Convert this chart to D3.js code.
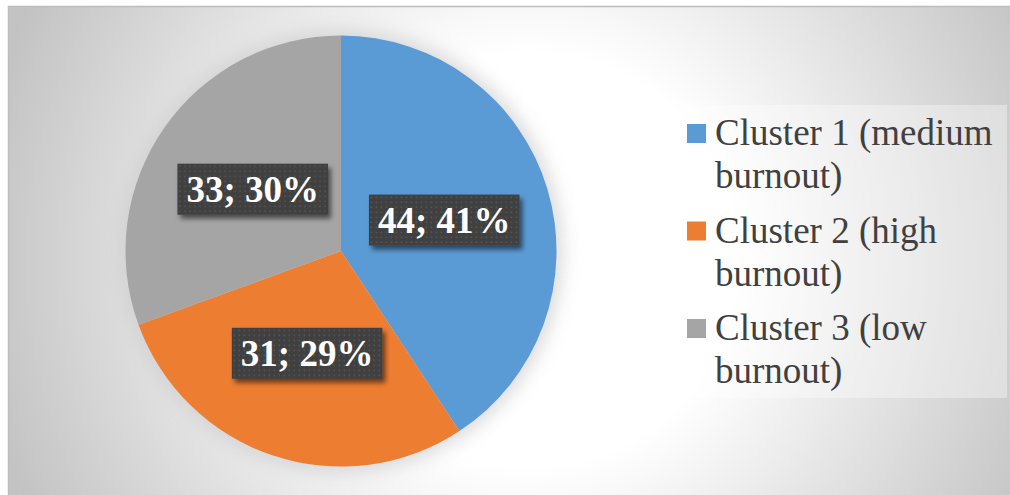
<!DOCTYPE html>
<html>
<head>
<meta charset="utf-8">
<script src="https://cdn.jsdelivr.net/npm/d3@7"></script>
<style>
  html, body { margin: 0; padding: 0; background: #ffffff; }
  svg { display: block; }
  .serif { font-family: "Liberation Serif", "Times New Roman", Times, Tinos, "Nimbus Roman", "DejaVu Serif", serif; }
</style>
</head>
<body>
<svg id="chart" width="1010" height="495"></svg>
<script>
// Cluster sizes and their shares
const categories = ["Cluster 1 (medium burnout)", "Cluster 2 (high burnout)", "Cluster 3 (low burnout)"];
const counts = [44, 31, 33];
const shares = ["41%", "29%", "30%"];
const colors = ["#5b9bd5", "#ed7d31", "#a5a5a5"];

const W = 1010, H = 495;
const svg = d3.select("#chart");
const defs = svg.append("defs");

// Radial background fill, light near the middle, grey toward the corners
const bg = defs.append("radialGradient")
  .attr("id", "bgGrad")
  .attr("gradientUnits", "userSpaceOnUse")
  .attr("cx", 530).attr("cy", 260).attr("r", 560);
bg.append("stop").attr("offset", 0).attr("stop-color", "#ffffff");
bg.append("stop").attr("offset", 0.37).attr("stop-color", "#ffffff");
bg.append("stop").attr("offset", 1).attr("stop-color", "#c3c3c3");

// Soft grey glow around the pie
const glow = defs.append("filter").attr("id", "glow")
  .attr("x", "-30%").attr("y", "-30%").attr("width", "160%").attr("height", "160%");
glow.append("feGaussianBlur").attr("stdDeviation", 9);

// Dotted dark fill for the data labels
const pat = defs.append("pattern").attr("id", "dots")
  .attr("patternUnits", "userSpaceOnUse").attr("width", 5).attr("height", 5);
pat.append("rect").attr("width", 5).attr("height", 5).attr("fill", "#404040");
pat.append("rect").attr("x", 1.5).attr("y", 1.5).attr("width", 1.5).attr("height", 1.5).attr("fill", "#575757");

// Drop shadow for the label boxes
const shadow = defs.append("filter").attr("id", "shadow")
  .attr("x", "-20%").attr("y", "-30%").attr("width", "140%").attr("height", "170%");
shadow.append("feDropShadow").attr("dx", 3).attr("dy", 4).attr("stdDeviation", 2.5)
  .attr("flood-color", "#000").attr("flood-opacity", 0.55);

// Chart area with thin frame
svg.append("rect")
  .attr("x", 8.5).attr("y", 6.5).attr("width", W).attr("height", H)
  .attr("fill", "url(#bgGrad)")
  .attr("stroke", "#bdbdbd").attr("stroke-width", 1.5);

// Pie
const cx = 341, cy = 251, R = 215.5;
const pie = d3.pie().sort(null).value(d => d)
  .startAngle(0).endAngle(2 * Math.PI);
const arcs = pie(counts);
const arc = d3.arc().innerRadius(0).outerRadius(R);

const pieG = svg.append("g").attr("transform", `translate(${cx},${cy})`);
pieG.append("circle").attr("r", R + 6)
  .attr("fill", "#cfcfcf").attr("opacity", 0.75).attr("filter", "url(#glow)");
pieG.selectAll("path.slice")
  .data(arcs)
  .join("path")
  .attr("class", "slice")
  .attr("d", arc)
  .attr("fill", (d, i) => colors[i]);

// Data labels "count; share" on dark boxes at half radius
const labels = pieG.selectAll("g.lbl")
  .data(arcs)
  .join("g")
  .attr("class", "lbl")
  .attr("transform", d => `translate(${arc.centroid(d)})`);

labels.each(function (d, i) {
  const g = d3.select(this);
  const box = g.append("rect").attr("fill", "url(#dots)").attr("filter", "url(#shadow)");
  const t = g.append("text")
    .attr("class", "serif")
    .attr("text-anchor", "middle")
    .attr("y", 12.5)
    .attr("font-weight", "bold")
    .attr("font-size", 37)
    .attr("fill", "#ffffff")
    .text(`${counts[i]}; ${shares[i]}`);
  const w = t.node().getComputedTextLength() + 18;
  const h = 51;
  box.attr("x", -w / 2).attr("y", -h / 2).attr("width", w).attr("height", h);
});

// Legend
const legend = svg.append("g");
legend.append("rect")
  .attr("x", 672).attr("y", 105).attr("width", 335).attr("height", 293)
  .attr("fill", "#ffffff").attr("opacity", 0.35);

const entryStep = 97.5, lineStep = 43;
categories.forEach((name, i) => {
  const y0 = 145 + i * entryStep;
  const cut = name.lastIndexOf(" ");
  const lines = [name.slice(0, cut), name.slice(cut + 1)];
  legend.append("rect")
    .attr("x", 687).attr("y", y0 - 21).attr("width", 19).attr("height", 19)
    .attr("fill", colors[i]);
  const txt = legend.append("text")
    .attr("class", "serif")
    .attr("font-size", 37)
    .attr("fill", "#404040");
  lines.forEach((ln, j) => {
    txt.append("tspan").attr("x", 715).attr("y", y0 + j * lineStep).text(ln);
  });
});
</script>
</body>
</html>
